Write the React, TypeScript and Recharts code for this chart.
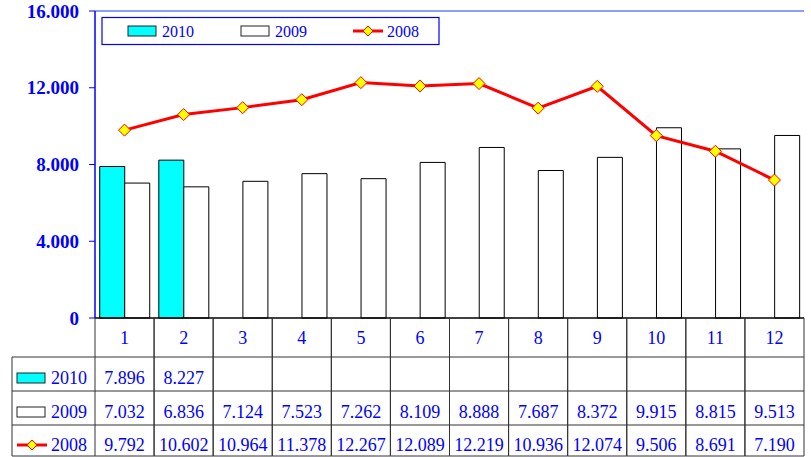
import React from 'react';
import { ComposedChart, Bar, Line, XAxis, YAxis, ReferenceLine } from 'recharts';

const months = ['1', '2', '3', '4', '5', '6', '7', '8', '9', '10', '11', '12'];
const s2010: (number | null)[] = [7.896, 8.227, null, null, null, null, null, null, null, null, null, null];
const s2009 = [7.032, 6.836, 7.124, 7.523, 7.262, 8.109, 8.888, 7.687, 8.372, 9.915, 8.815, 9.513];
const s2008 = [9.792, 10.602, 10.964, 11.378, 12.267, 12.089, 12.219, 10.936, 12.074, 9.506, 8.691, 7.19];
const yTicks = [0, 4, 8, 12, 16];
const seriesNames = ['2010', '2009', '2008'];

const data = months.map((m, i) => ({ m, v2010: s2010[i], v2009: s2009[i], v2008: s2008[i] }));

const W = 811;
const H = 457;
const PLOT_LEFT = 95;
const PLOT_RIGHT = 804;
const PLOT_TOP = 11;
const PLOT_BOTTOM = 318;
const ROW_LINES = [357, 391, 425, 456];
const ROW_BASE = [384, 418, 451];
const FONT = '"Liberation Serif", "Times New Roman", serif';
const BLUE = '#0000ff';
const GRID = '#333333';

const COL_W = (PLOT_RIGHT - PLOT_LEFT) / months.length;

const fmt = (v: number | null) => (v == null ? '' : v.toFixed(3));

function TableTick(props: any) {
  const { x, payload } = props;
  const i = payload.index;
  const hw = COL_W / 2;
  const rows = [s2010[i], s2009[i], s2008[i]];
  return (
    <g>
      <line x1={x - hw} x2={x - hw} y1={PLOT_BOTTOM} y2={456} stroke={GRID} strokeWidth={1} />
      <line x1={x + hw} x2={x + hw} y1={PLOT_BOTTOM} y2={456} stroke={GRID} strokeWidth={1} />
      {ROW_LINES.map((ly) => (
        <line key={ly} x1={x - hw} x2={x + hw} y1={ly} y2={ly} stroke={GRID} strokeWidth={1} />
      ))}
      <text x={x} y={344} textAnchor="middle" fontFamily={FONT} fontSize={18} fill={BLUE}>
        {payload.value}
      </text>
      {rows.map((v, r) => (
        <text key={r} x={x} y={ROW_BASE[r]} textAnchor="middle" fontFamily={FONT} fontSize={18} fill={BLUE}>
          {fmt(v)}
        </text>
      ))}
    </g>
  );
}

function Diamond(props: any) {
  const { cx, cy } = props;
  if (cx == null || cy == null) return null;
  const r = 6;
  return (
    <path
      d={`M${cx},${cy - r} L${cx + r},${cy} L${cx},${cy + r} L${cx - r},${cy} Z`}
      fill="#ffff00"
      stroke="#ff0000"
      strokeWidth={1}
    />
  );
}

function Swatch({ kind, x, y }: { kind: number; x: number; y: number }) {
  if (kind === 0) return <rect x={x} y={y} width={28} height={10} fill="#00ffff" stroke="#222" strokeWidth={1} />;
  if (kind === 1) return <rect x={x} y={y} width={28} height={10} fill="#ffffff" stroke="#222" strokeWidth={1} />;
  return (
    <g>
      <line x1={x} x2={x + 30} y1={y + 5} y2={y + 5} stroke="#ff0000" strokeWidth={3} />
      <path d={`M${x + 15},${y} L${x + 20},${y + 5} L${x + 15},${y + 10} L${x + 10},${y + 5} Z`} fill="#ffff00" stroke="#ff0000" strokeWidth={1} />
    </g>
  );
}

export default function App() {
  return (
    <div style={{ position: 'absolute', left: 0, top: 0, width: W, height: H, background: '#fff' }}>
      <ComposedChart
        width={W}
        height={H}
        data={data}
        margin={{ top: PLOT_TOP, right: W - PLOT_RIGHT, bottom: 0, left: 0 }}
        barCategoryGap="8%"
        barGap={0}
      >
        <XAxis
          dataKey="m"
          xAxisId={0}
          height={H - PLOT_BOTTOM}
          interval={0}
          tickLine={false}
          tickSize={0}
          axisLine={{ stroke: '#000', strokeWidth: 1.5 }}
          tick={<TableTick />}
        />
        <YAxis
          yAxisId={0}
          width={PLOT_LEFT}
          domain={[0, 16]}
          ticks={yTicks}
          interval={0}
          tickSize={6}
          tickMargin={10}
          tickLine={{ stroke: BLUE }}
          axisLine={{ stroke: BLUE, strokeWidth: 1.5 }}
          tickFormatter={(v: number) => (v === 0 ? '0' : v.toFixed(3))}
          tick={{ fill: BLUE, fontFamily: FONT, fontSize: 19, fontWeight: 'bold' }}
        />
        <YAxis
          yAxisId="r"
          orientation="right"
          width={0}
          domain={[0, 16]}
          tick={false}
          tickLine={false}
          axisLine={{ stroke: '#3355ff', strokeWidth: 2 }}
        />
        <ReferenceLine y={16} stroke="#8b9dff" strokeWidth={2} />
        <Bar dataKey="v2010" fill="#00ffff" stroke="#000" strokeWidth={1} isAnimationActive={false} />
        <Bar dataKey="v2009" fill="#ffffff" stroke="#000" strokeWidth={1} isAnimationActive={false} />
        <Line
          dataKey="v2008"
          stroke="#ff0000"
          strokeWidth={3}
          dot={<Diamond />}
          activeDot={false}
          isAnimationActive={false}
        />
      </ComposedChart>
      <svg width={W} height={H} style={{ position: 'absolute', left: 0, top: 0, pointerEvents: 'none' }}>
        {/* legend box */}
        <rect x={102} y={17.5} width={337} height={27} fill="#fff" stroke={BLUE} strokeWidth={1.2} />
        {seriesNames.map((n, k) => {
          const sx = [128, 241, 353][k];
          return (
            <g key={n}>
              <Swatch kind={k} x={sx} y={26} />
              <text x={[162, 275, 387][k]} y={37} fontFamily={FONT} fontSize={16} fill={BLUE}>
                {n}
              </text>
            </g>
          );
        })}
        {/* table legend column */}
        <line x1={12} x2={12} y1={357} y2={456} stroke={GRID} />
        {ROW_LINES.map((ly) => (
          <line key={ly} x1={12} x2={PLOT_LEFT} y1={ly} y2={ly} stroke={GRID} />
        ))}
        {seriesNames.map((n, k) => (
          <g key={n}>
            <Swatch kind={k} x={17} y={ROW_BASE[k] - 11} />
            <text x={51} y={ROW_BASE[k]} fontFamily={FONT} fontSize={18} fill={BLUE}>
              {n}
            </text>
          </g>
        ))}
      </svg>
    </div>
  );
}
